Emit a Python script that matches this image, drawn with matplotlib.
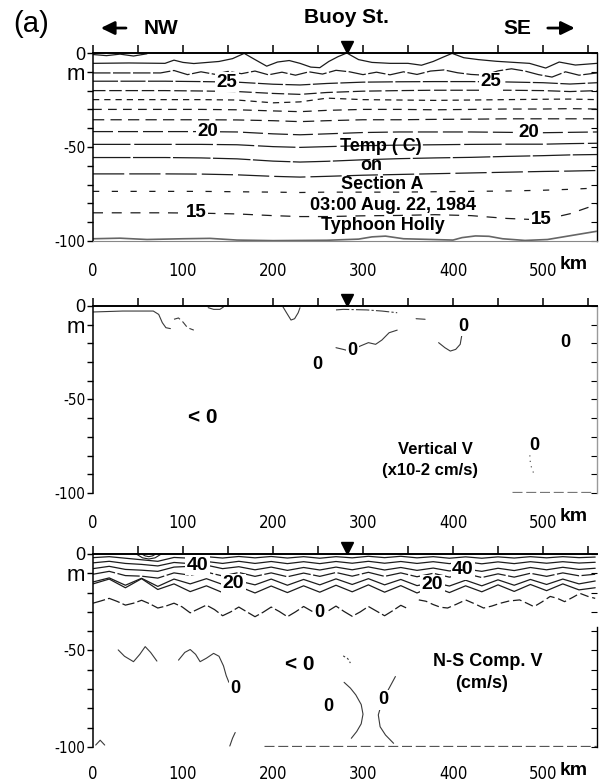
import numpy as np
import matplotlib
matplotlib.use("Agg")
import matplotlib.pyplot as plt
import matplotlib.transforms as mtransforms
from matplotlib.patches import FancyArrowPatch

# distances along Section A in km, depths in m (positive downward)
BUOY_KM = 282
KM_TICKS = [0, 100, 200, 300, 400, 500]
KM_MINOR = np.arange(0, 551, 50)
Z_TICKS = np.arange(-100, 1, 10)
Z_LABELS = ["-100", "", "", "", "", "-50", "", "", "", "m", "0"]

# ---- temperature isotherms (deg C) ----
T28_KM = [0, 15, 30, 45, 60]
T28 = [0.8, 1.4, 0.6, 1.6, 0.4]

T27_KM = [0, 40, 80, 90, 100, 112, 140, 155, 168, 180, 193, 205, 218, 230, 242, 252, 262, 272,
          282, 295, 310, 330, 350, 365, 378, 390, 399, 412, 428, 448, 468, 485, 503, 518, 536, 560]
T27 = [5.5, 5.3, 5.5, 3.8, 5.0, 5.6, 4.5, 3.0, 0.2, 3.5, 7.0, 4.8, 4.0, 5.5, 7.5, 7.8, 4.5, 2.0,
       0.0, 3.5, 5.0, 5.5, 5.5, 6.5, 4.5, 2.0, 0.2, 2.5, 3.5, 4.4, 5.0, 5.5, 8.0, 4.8, 6.4, 5.5]

T26_KM = [0, 40, 75, 90, 105, 120, 135, 150, 165, 180, 195, 210, 225, 240, 255, 270, 285, 300,
          315, 330, 345, 360, 375, 390, 405, 420, 435, 450, 465, 480, 495, 510, 525, 540, 560]
T26 = [10.6, 10.6, 10.6, 9.3, 11.5, 10.0, 11.3, 9.8, 11.0, 9.6, 11.6, 10.2, 11.8, 10.0, 11.2, 9.2,
       10.0, 11.5, 10.2, 11.6, 10.0, 11.4, 9.6, 9.0, 10.5, 11.4, 11.8, 9.5, 8.4, 9.6, 11.5, 12.8,
       10.0, 11.8, 10.6]

TEMP_KM = [0, 40, 80, 120, 160, 200, 230, 260, 300, 340, 380, 420, 460, 500, 530, 560]
T25 = [15.0, 15.0, 15.0, 15.2, 15.5, 16.6, 17.0, 16.2, 15.5, 15.3, 15.2, 15.2, 15.4, 15.8, 16.5, 15.8]
T24 = [20.0, 20.0, 20.0, 20.2, 20.5, 21.5, 22.0, 21.0, 20.3, 20.0, 19.8, 19.8, 19.8, 20.0, 20.5, 20.0]
T23 = [24.8, 24.8, 24.8, 24.8, 25.0, 26.5, 26.0, 24.0, 24.8, 25.0, 25.2, 25.0, 24.8, 24.6, 24.5, 24.8]
T22 = [30.0, 30.0, 30.0, 30.0, 30.2, 30.8, 31.2, 30.5, 30.0, 30.0, 30.2, 30.0, 29.8, 29.8, 29.6, 29.8]
T21 = [35.5, 35.5, 35.5, 35.5, 35.6, 36.0, 36.5, 36.0, 35.5, 35.5, 35.3, 35.2, 35.0, 35.0, 35.0, 35.0]
T20 = [41.8, 41.8, 41.8, 41.8, 42.0, 43.0, 43.5, 43.0, 42.3, 42.0, 42.0, 42.0, 42.2, 42.4, 42.2, 42.0]
T19 = [48.6, 48.6, 48.6, 48.6, 48.8, 49.8, 50.2, 49.8, 49.3, 49.0, 48.8, 48.6, 48.5, 48.5, 48.2, 48.0]
T18 = [55.6, 55.6, 55.6, 55.8, 56.3, 57.5, 58.0, 57.6, 56.8, 56.2, 55.8, 55.5, 55.0, 54.6, 54.2, 54.0]
T17 = [64.3, 64.3, 64.3, 64.4, 64.8, 65.6, 66.0, 65.6, 65.0, 64.6, 64.2, 63.8, 63.4, 63.0, 62.8, 62.5]
T16 = [73.6, 73.6, 73.6, 73.6, 73.8, 74.0, 74.2, 74.0, 74.0, 74.0, 73.8, 73.6, 73.4, 73.0, 72.5, 71.8]
T15 = [85.0, 85.0, 85.0, 85.2, 85.6, 86.5, 87.0, 87.0, 86.6, 86.4, 86.0, 86.5, 88.0, 88.8, 85.5, 80.5]

T14_KM = [0, 30, 60, 100, 130, 160, 200, 260, 295, 310, 325, 345, 400, 410, 425, 440, 455, 480, 505, 530, 560]
T14 = [98.8, 98.5, 99.2, 98.8, 98.6, 99.5, 99.8, 99.6, 99.0, 97.8, 97.4, 98.8, 99.5, 98.2, 97.3, 97.5,
       98.8, 99.7, 99.2, 97.2, 94.8]

# ---- vertical velocity zero lines (x10-2 cm/s) ----
VV_A_KM, VV_A = [0, 33, 67, 73, 77, 81, 86], [3.2, 2.7, 2.7, 4.5, 8.9, 11.6, 12.1]
VV_B_KM, VV_B = [90, 95, 100, 105, 112], [7.1, 6.4, 8.6, 11.6, 12.9]
VV_C_KM, VV_C = [128, 134, 141, 145], [0.9, 1.8, 1.8, 0.5]
VV_D_KM, VV_D = [211, 215, 220, 224, 228, 230], [0.4, 3.6, 7.5, 6.8, 3.6, 0.9]
VV_E_KM, VV_E = [270, 278, 304, 321, 338], [2.1, 1.8, 2.1, 2.7, 3.6]
VV_F_KM = [270, 278, 285, 297, 306, 314, 321, 329, 338]
VV_F = [22.3, 23.2, 24.1, 21.4, 19.6, 20.5, 18.2, 14.3, 12.9]
VV_G_KM, VV_G = [359, 369], [6.8, 7.1]
VV_H_KM, VV_H = [384, 391, 397, 403, 408, 410], [19.6, 22.3, 24.1, 23.2, 20.5, 15.0]
VV_I_KM, VV_I = [487, 485, 487, 490], [77, 81, 86, 90]
VV_BASE_KM, VV_BASE = [465, 555], [99.6, 99.6]

# ---- N-S velocity isotachs (cm/s) ----
NS_KM = np.arange(0, 559, 18)
NS60 = [1.9, 1.4, 2.2, 3.0, 3.8, 1.8, 2.2, 1.4, 2.1, 1.3, 2.0, 1.3, 2.1, 1.4, 2.2, 1.4,
        2.0, 1.2, 1.9, 1.2, 2.0, 1.4, 2.2, 1.5, 2.2, 1.5, 2.1, 1.4, 2.0, 1.4, 1.9, 1.6]
NS50 = [4.6, 3.8, 4.9, 5.4, 6.2, 4.4, 5.0, 3.9, 4.9, 3.8, 4.9, 3.9, 5.0, 4.0, 5.0, 3.9,
        4.8, 3.8, 4.8, 3.9, 4.9, 4.0, 5.0, 4.0, 5.1, 4.1, 5.0, 4.0, 4.8, 4.0, 4.7, 4.3]
NS40 = [7.6, 6.4, 8.0, 8.4, 9.0, 6.8, 6.4, 5.8, 7.6, 6.6, 8.2, 6.8, 8.5, 7.0, 8.3, 6.8,
        8.2, 6.7, 8.3, 7.0, 8.5, 7.3, 8.8, 7.8, 9.0, 7.4, 8.6, 7.0, 8.2, 6.9, 8.0, 7.4]
NS30 = [10.5, 9.0, 11.2, 11.5, 12.5, 9.8, 11.0, 9.4, 11.4, 9.6, 11.6, 9.8, 11.8, 9.9, 11.6, 9.6,
        11.5, 9.5, 11.6, 9.8, 11.8, 10.0, 12.0, 10.2, 12.2, 10.3, 12.0, 10.0, 11.6, 9.8, 11.3, 10.5]
NS20 = [14.5, 12.4, 16.2, 12.6, 16.8, 13.0, 15.5, 12.8, 15.8, 14.0, 16.0, 13.0, 16.2, 13.2, 16.0, 12.9,
        15.8, 12.8, 16.0, 13.2, 16.4, 14.8, 16.6, 13.6, 16.5, 13.4, 16.2, 13.2, 15.8, 13.0, 15.5, 14.0]
NS10 = [15.5, 13.0, 17.5, 12.8, 18.4, 15.5, 19.5, 16.5, 20.0, 16.8, 20.2, 16.6, 20.0, 16.5, 19.8, 16.2,
        19.6, 16.0, 19.8, 16.4, 20.2, 16.8, 20.0, 16.5, 19.6, 16.0, 19.4, 15.8, 19.0, 15.5, 18.6, 17.5]

NS0_A_KM = np.arange(0, 352, 9)
NS0_A = [25.5, 24.3, 23.0, 24.6, 26.5, 25.5, 24.0, 25.8, 28.0, 27.0,
         25.5, 27.4, 30.5, 28.5, 26.5, 28.8, 32.0, 30.0, 27.5, 30.0,
         32.5, 30.2, 27.5, 29.8, 32.5, 30.0, 27.2, 29.6, 32.0, 29.6,
         27.0, 29.8, 32.3, 30.0, 27.2, 29.6, 32.0, 29.4, 26.6, 28.6]
NS0_B_KM = [362, 370, 378, 386, 394, 404, 414, 424, 434, 443, 452, 462,
            474, 482, 490, 499, 508, 516, 524, 533, 541, 550, 558]
NS0_B = [23.8, 24.5, 26.2, 27.6, 28.0, 26.0, 23.8, 25.8, 28.0, 27.0, 25.6, 24.4,
         23.8, 25.5, 27.3, 24.8, 22.0, 23.0, 24.7, 22.5, 20.4, 22.0, 23.0]

NS_BE1_KM, NS_BE1 = [48, 55, 62, 69, 76], [0.0, 2.0, 2.6, 2.0, 0.0]
NS_BE2_KM, NS_BE2 = [54, 58, 62, 66, 70], [0.0, 1.0, 1.4, 1.0, 0.0]
NS_S1_KM, NS_S1 = [28, 35, 45, 52, 58, 64, 71], [49.7, 53.0, 55.8, 52.0, 48.0, 51.0, 55.5]
NS_S2_KM = [95, 102, 108, 114, 119, 126, 134, 140, 145, 148, 151]
NS_S2 = [55.0, 51.0, 49.5, 52.0, 55.8, 54.0, 51.5, 53.0, 58.0, 63.0, 66.5]
NS_S3_KM, NS_S3 = [152, 155, 158], [99.5, 95.5, 92.5]
NS_S4_KM, NS_S4 = [3, 8, 13], [99.0, 96.5, 99.0]
NS_S5_KM, NS_S5 = [278, 283, 286], [52.8, 54.2, 56.5]
NS_WL_KM = [279, 286, 292, 298, 300, 298, 293, 287]
NS_WL = [66.5, 69.5, 73.0, 78.0, 83.0, 88.0, 92.0, 95.5]
NS_EL_KM = [336, 330, 325, 320, 317, 319, 325, 334]
NS_EL = [63.5, 68.7, 73.0, 78.5, 83.4, 89.5, 93.8, 98.1]
NS_BASE_KM, NS_BASE = [190, 560], [99.6, 99.6]

INK = "#1c1c1c"
SANS = ["Liberation Sans", "DejaVu Sans"]
NARROW = ["Liberation Sans Narrow", "DejaVu Sans"]


def line(ax, km, depth, ls="-", color=INK, lw=0.9):
    ax.plot(km, -np.asarray(depth, dtype=float), ls=ls, color=color, lw=lw,
            solid_capstyle="round", dash_capstyle="butt")


def label(ax, km, depth, text, size=13.5, box=True):
    kw = dict(ha="center", va="center", fontsize=size, fontweight="bold",
              family=SANS, color="black", zorder=5)
    if box:
        kw["bbox"] = dict(boxstyle="square,pad=0.08", fc="white", ec="none")
    ax.text(km, -depth, text, **kw)


def frame(fig, ax, label_drop):
    ax.set_xlim(0, 560)
    ax.set_ylim(-100, 0)
    ax.set_xticks(KM_TICKS, [str(t) for t in KM_TICKS])
    ax.set_xticks(KM_MINOR, minor=True)
    ax.tick_params(axis="x", which="both", bottom=False, top=True, direction="out",
                   length=6, width=1.1, labelbottom=True, labeltop=False, pad=label_drop)
    ax.set_yticks(Z_TICKS, Z_LABELS)
    ax.tick_params(axis="y", left=True, right=False, direction="out", length=4,
                   width=1.0, pad=1.5)
    for lab in ax.get_xticklabels():
        lab.set_fontfamily(NARROW)
        lab.set_fontstretch("condensed")
        lab.set_fontsize(12)
    for lab, txt in zip(ax.get_yticklabels(), Z_LABELS):
        if txt == "0":
            lab.set_fontfamily(SANS)
            lab.set_fontsize(13)
        elif txt == "m":
            lab.set_fontfamily(SANS)
            lab.set_fontsize(16)
        else:
            lab.set_fontfamily(NARROW)
            lab.set_fontstretch("condensed")
            lab.set_fontsize(11)
    ax.spines["top"].set_linewidth(1.4)
    ax.spines["left"].set_linewidth(1.1)
    ax.spines["right"].set_visible(False)
    right = ax.secondary_yaxis("right")
    right.set_yticks(Z_TICKS)
    right.tick_params(direction="in", length=4, labelright=False)
    right.spines["right"].set_linewidth(1.0)

    # buoy station marker above the section
    up = mtransforms.offset_copy(ax.transData, fig=fig, x=0, y=6, units="dots")
    ax.plot([BUOY_KM], [0], marker="v", ms=8, color="black", clip_on=False, transform=up)

    below = mtransforms.blended_transform_factory(ax.transData, ax.transAxes)
    ax.annotate("km", xy=(518, 0), xycoords=below, xytext=(0, -17), textcoords="offset points",
                ha="left", va="center", fontsize=14, fontweight="bold", family=SANS)
    return right


fig = plt.figure(figsize=(6, 7.83), dpi=100)
ax1 = fig.add_axes([0.155, 0.6922, 0.84, 0.2401])
ax2 = fig.add_axes([0.155, 0.3704, 0.84, 0.2388])
ax3 = fig.add_axes([0.155, 0.0460, 0.84, 0.2465])

# ---------------- temperature ----------------
frame(fig, ax1, 9)
ax1.spines["bottom"].set_color("#888888")
line(ax1, T28_KM, T28)
line(ax1, T27_KM, T27)
line(ax1, T26_KM, T26, ls=(0, (14, 2)))
line(ax1, TEMP_KM, T25, ls=(0, (20, 2)))
line(ax1, TEMP_KM, T24, ls=(0, (10, 3)))
line(ax1, TEMP_KM, T23, ls=(0, (5, 4)))
line(ax1, TEMP_KM, T22, ls=(0, (7, 5)))
line(ax1, TEMP_KM, T21, ls=(0, (9, 5)))
line(ax1, TEMP_KM, T20, ls=(0, (16, 4)))
line(ax1, TEMP_KM, T19, ls=(0, (30, 3)))
line(ax1, TEMP_KM, T18, ls=(0, (30, 2)))
line(ax1, TEMP_KM, T17, ls=(0, (25, 4)))
line(ax1, TEMP_KM, T16, ls=(0, (5, 10)))
line(ax1, TEMP_KM, T15, ls=(0, (8, 7)))
line(ax1, T14_KM, T14, color="#666666", lw=1.2)

label(ax1, 149, 15.5, "25")
label(ax1, 442, 15.2, "25")
label(ax1, 128, 41.8, "20")
label(ax1, 484, 42.4, "20")
label(ax1, 115, 85.0, "15")
label(ax1, 498, 88.8, "15")

label(ax1, 320, 49.8, "Temp ( C)", size=13, box=False)
label(ax1, 309, 60.1, "on", size=13, box=False)
label(ax1, 321, 70.2, "Section A", size=13, box=False)
label(ax1, 333, 80.9, "03:00 Aug. 22, 1984", size=13, box=False)
label(ax1, 322, 92.0, "Typhoon Holly", size=13, box=False)

# ---------------- vertical velocity ----------------
right2 = frame(fig, ax2, 9)
ax2.spines["bottom"].set_visible(False)
right2.spines["right"].set_color("#9a9a9a")
gray = "#3a3a3a"
line(ax2, VV_A_KM, VV_A, color=gray, lw=0.8)
line(ax2, VV_B_KM, VV_B, ls=(0, (6, 3)), color=gray, lw=0.8)
line(ax2, VV_C_KM, VV_C, color=gray, lw=0.8)
line(ax2, VV_D_KM, VV_D, color=gray, lw=0.8)
line(ax2, VV_E_KM, VV_E, ls=(0, (12, 2, 2, 2)), color=gray, lw=0.8)
line(ax2, VV_F_KM, VV_F, color=gray, lw=0.8)
line(ax2, VV_G_KM, VV_G, color=gray, lw=0.8)
line(ax2, VV_H_KM, VV_H, color=gray, lw=0.8)
line(ax2, VV_I_KM, VV_I, ls=(0, (1, 4)), color=gray, lw=0.8)
line(ax2, VV_BASE_KM, VV_BASE, ls=(0, (8, 3)), color="#777777", lw=0.9)

label(ax2, 249, 31.2, "0", size=13)
label(ax2, 288, 23.8, "0", size=13)
label(ax2, 411, 10.7, "0", size=13)
label(ax2, 525, 19.6, "0", size=13)
label(ax2, 490, 74.6, "0", size=13)
label(ax2, 122, 59.8, "< 0", size=15, box=False)
label(ax2, 380, 77.0, "Vertical V", size=12, box=False)
label(ax2, 374, 88.0, "(x10-2 cm/s)", size=12, box=False)

# ---------------- N-S velocity ----------------
right3 = frame(fig, ax3, 7)
ax3.spines["bottom"].set_visible(False)
right3.spines["right"].set_bounds(-100, -38)
line(ax3, NS_KM, NS60)
line(ax3, NS_KM, NS50)
line(ax3, NS_KM, NS40)
line(ax3, NS_KM, NS30, ls=(0, (18, 2)))
line(ax3, NS_KM, NS20)
line(ax3, NS_KM, NS10)
line(ax3, NS_BE1_KM, NS_BE1, lw=0.8)
line(ax3, NS_BE2_KM, NS_BE2, lw=0.8)
line(ax3, NS0_A_KM, NS0_A, ls=(0, (10, 2.5)))
line(ax3, NS0_B_KM, NS0_B, ls=(0, (7, 3)))
line(ax3, NS_S1_KM, NS_S1, color=gray, lw=0.8)
line(ax3, NS_S2_KM, NS_S2, color=gray, lw=0.8)
line(ax3, NS_S3_KM, NS_S3, color=gray, lw=0.8)
line(ax3, NS_S4_KM, NS_S4, color=gray, lw=0.8)
line(ax3, NS_S5_KM, NS_S5, ls=(0, (2, 2)), color=gray, lw=0.8)
line(ax3, NS_WL_KM, NS_WL, color=gray, lw=0.8)
line(ax3, NS_EL_KM, NS_EL, color=gray, lw=0.8)
line(ax3, NS_BASE_KM, NS_BASE, ls=(0, (8, 3)), color="#555555", lw=0.9)

label(ax3, 116, 5.9, "40", size=14)
label(ax3, 411, 8.3, "40", size=14)
label(ax3, 156, 15.5, "20", size=14)
label(ax3, 377, 16.0, "20", size=14)
label(ax3, 252, 30.5, "0", size=13)
label(ax3, 158, 69.6, "0", size=13)
label(ax3, 261, 79.0, "0", size=13)
label(ax3, 323, 75.6, "0", size=13)
label(ax3, 230, 57.5, "< 0", size=15, box=False)
label(ax3, 439, 55.8, "N-S Comp. V", size=13, box=False)
label(ax3, 432, 67.0, "(cm/s)", size=13, box=False)

# ---------------- header ----------------
fig.text(0.052, 0.969, "(a)", ha="center", va="center", fontsize=21, family=SANS)
fig.text(0.268, 0.963, "NW", ha="center", va="center", fontsize=15, fontweight="bold", family=SANS)
fig.text(0.578, 0.978, "Buoy St.", ha="center", va="center", fontsize=15, fontweight="bold", family=SANS)
fig.text(0.863, 0.963, "SE", ha="center", va="center", fontsize=15, fontweight="bold", family=SANS)
for tail, head in [((0.210, 0.9642), (0.168, 0.9642)), ((0.913, 0.9642), (0.958, 0.9642))]:
    fig.add_artist(FancyArrowPatch(tail, head, transform=fig.transFigure,
                                   arrowstyle="-|>,head_length=0.45,head_width=0.22",
                                   mutation_scale=18, lw=2.0, color="black",
                                   shrinkA=0, shrinkB=0))

fig.savefig("out.png", dpi=100)
